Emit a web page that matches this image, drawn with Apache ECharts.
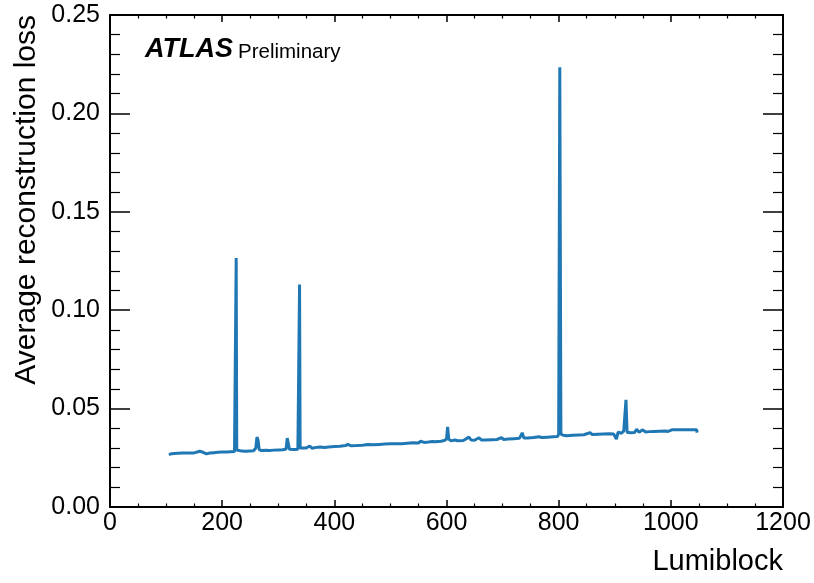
<!DOCTYPE html>
<html>
<head>
<meta charset="utf-8">
<script src="https://cdn.jsdelivr.net/npm/echarts@6.0.0/dist/echarts.min.js"></script>
<style>
  html, body { margin: 0; padding: 0; background: #fff; }
  #chart { width: 814px; height: 583px; }
</style>
</head>
<body>
<div id="chart"></div>
<script>
// lumiblock values and average reconstruction loss
var lumiblock = [
  105, 110, 120, 130, 140, 150, 160, 166, 172, 178, 185, 192, 200, 208, 215, 222,
  224, 225, 226, 228, 235, 242, 250, 256, 260, 262, 264, 266, 270, 278, 285, 292,
  300, 308, 314, 316, 318, 320, 328, 335, 337, 338, 339, 342, 350, 356, 360, 368,
  375, 382, 390, 400, 410, 420, 424, 430, 440, 450, 460, 470, 480, 490, 500, 510,
  520, 530, 540, 550, 554, 560, 568, 575, 580, 590, 596, 600, 602, 604, 608, 615,
  620, 630, 640, 644, 650, 658, 662, 670, 680, 690, 698, 702, 710, 720, 730, 735,
  738, 745, 755, 765, 770, 780, 790, 798, 800, 802, 804, 808, 815, 825, 835, 845,
  856, 860, 870, 880, 890, 898, 903, 906, 912, 916, 920, 922, 928, 935, 939, 943,
  950, 955, 962, 970, 980, 990, 995, 1002, 1046, 1047
]
var loss = [
  0.0266, 0.0271, 0.0273, 0.0274, 0.0274, 0.0275, 0.0283, 0.0278, 0.0270, 0.0274, 0.0276, 0.0278, 0.0279, 0.0280, 0.0281, 0.0282,
  0.0290, 0.1265, 0.0290, 0.0283, 0.0284, 0.0283, 0.0285, 0.0286, 0.0300, 0.0355, 0.0340, 0.0292, 0.0287, 0.0288, 0.0287, 0.0289,
  0.0290, 0.0291, 0.0295, 0.0350, 0.0345, 0.0293, 0.0292, 0.0294, 0.0300, 0.1130, 0.0300, 0.0296, 0.0300, 0.0310, 0.0299, 0.0303,
  0.0305, 0.0302, 0.0305, 0.0307, 0.0309, 0.0312, 0.0318, 0.0311, 0.0312, 0.0314, 0.0317, 0.0316, 0.0318, 0.0320, 0.0322, 0.0321,
  0.0322, 0.0324, 0.0326, 0.0325, 0.0334, 0.0328, 0.0330, 0.0333, 0.0331, 0.0334, 0.0338, 0.0345, 0.0407, 0.0345, 0.0336, 0.0340,
  0.0337, 0.0338, 0.0355, 0.0340, 0.0339, 0.0352, 0.0340, 0.0340, 0.0342, 0.0343, 0.0352, 0.0343, 0.0345, 0.0347, 0.0349, 0.0377,
  0.0350, 0.0351, 0.0353, 0.0357, 0.0353, 0.0355, 0.0357, 0.0358, 0.0370, 0.2235, 0.0370, 0.0365, 0.0362, 0.0364, 0.0366, 0.0367,
  0.0378, 0.0368, 0.0370, 0.0371, 0.0372, 0.0371, 0.0345, 0.0380, 0.0375, 0.0385, 0.0545, 0.0380, 0.0377, 0.0378, 0.0395, 0.0380,
  0.0392, 0.0381, 0.0383, 0.0384, 0.0385, 0.0386, 0.0384, 0.0392, 0.0392, 0.0378
]
var xTicks = [0, 200, 400, 600, 800, 1000, 1200]
var yTicks = [0.00, 0.05, 0.10, 0.15, 0.20, 0.25]

var points = lumiblock.map(function (x, i) { return [x, loss[i]] })

var font = "'Liberation Sans', Arial, Helvetica, sans-serif"
var black = '#000'

function xAxisBase (pos, labels) {
  return {
    type: 'value',
    position: pos,
    min: xTicks[0],
    max: xTicks[xTicks.length - 1],
    interval: 200,
    axisLine: { show: true, onZero: false, lineStyle: { color: black, width: 2 } },
    axisTick: { show: true, inside: true, length: 7, lineStyle: { color: black, width: 1.5 } },
    minorTick: { show: true, splitNumber: 4, length: 3.5, lineStyle: { color: black, width: 1.2 } },
    splitLine: { show: false },
    axisLabel: {
      show: labels,
      margin: 4,
      color: black,
      fontSize: 25,
      fontFamily: font,
      formatter: function (v) { return String(v) }
    }
  }
}

function yAxisBase (pos, labels) {
  return {
    type: 'value',
    position: pos,
    min: yTicks[0],
    max: yTicks[yTicks.length - 1],
    interval: 0.05,
    axisLine: { show: true, onZero: false, lineStyle: { color: black, width: 2 } },
    axisTick: { show: true, inside: true, length: 20, lineStyle: { color: black, width: 1.5 } },
    minorTick: { show: true, splitNumber: 5, length: 10, lineStyle: { color: black, width: 1.2 } },
    splitLine: { show: false },
    axisLabel: {
      show: labels,
      margin: 10,
      color: black,
      fontSize: 25,
      fontFamily: font,
      formatter: function (v) { return v.toFixed(2) }
    }
  }
}

var myChart = echarts.init(document.getElementById('chart'), null, { renderer: 'canvas' })

var option = {
  backgroundColor: '#fff',
  animation: false,
  grid: { left: 110, right: 31, top: 15, bottom: 76, containLabel: false },
  xAxis: [xAxisBase('bottom', true), xAxisBase('top', false)],
  yAxis: [yAxisBase('left', true), yAxisBase('right', false)],
  graphic: [
    {
      type: 'text', x: 145, y: 50,
      style: { text: 'ATLAS', fontSize: 27, fontWeight: 'bold', fontStyle: 'italic', fontFamily: font, fill: black, align: 'left', verticalAlign: 'middle' }
    },
    {
      type: 'text', x: 238, y: 52,
      style: { text: 'Preliminary', fontSize: 20.5, fontFamily: font, fill: black, align: 'left', verticalAlign: 'middle' }
    },
    {
      type: 'text', x: 783, y: 562,
      style: { text: 'Lumiblock', fontSize: 29, fontFamily: font, fill: black, align: 'right', verticalAlign: 'middle' }
    },
    {
      type: 'text', x: 27, y: 15, rotation: Math.PI / 2,
      style: { text: 'Average reconstruction loss', fontSize: 30, fontFamily: font, fill: black, align: 'right', verticalAlign: 'middle' }
    }
  ],
  series: [
    {
      type: 'line',
      xAxisIndex: 0,
      yAxisIndex: 0,
      showSymbol: false,
      lineStyle: { color: '#1f77b4', width: 3 },
      data: points
    }
  ]
}

myChart.setOption(option)
</script>
</body>
</html>
